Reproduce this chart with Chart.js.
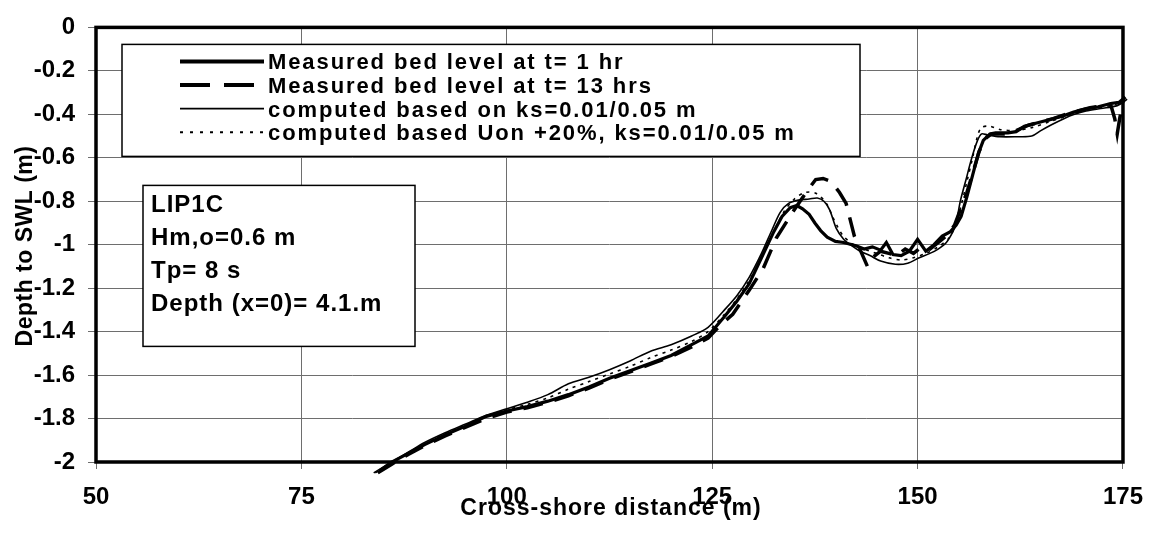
<!DOCTYPE html>
<html>
<head>
<meta charset="utf-8">
<script src="https://cdn.jsdelivr.net/npm/chart.js@4.4.1/dist/chart.umd.min.js"></script>
<style>
	html, body { margin: 0; padding: 0; background: #fff; }
	#chartdiv { width: 1157px; height: 533px; }
</style>
</head>
<body>
<div id="chartdiv"><canvas id="profilechart" width="1157" height="533"></canvas></div>
<script>
// LIP1C cross-shore profiles

var seriesNames = [
	"Measured bed level at t= 1 hr",
	"Measured bed level at t= 13 hrs",
	"computed based on ks=0.01/0.05 m",
	"computed based Uon +20%, ks=0.01/0.05 m"
];

var noteLines = ["LIP1C", "Hm,o=0.6 m", "Tp= 8 s", "Depth (x=0)= 4.1.m"];

var xTicks = [50, 75, 100, 125, 150, 175];
var yTicks = [0, -0.2, -0.4, -0.6, -0.8, -1, -1.2, -1.4, -1.6, -1.8, -2];

var xTitle = "Cross-shore distance (m)";
var yTitle = "Depth to SWL (m)";

// measured t = 1 hr
var bed1hrX = [84.5, 86, 88, 90, 92.5, 95, 97.5, 100, 102.5, 105, 107.5, 110, 112.5, 115, 117.5,
	120, 122.5, 124.5, 126.5, 128, 129.5, 131, 132.5, 133.5, 134.5, 135.3, 136, 136.8, 137.5, 138.2,
	139, 140, 141, 142.5, 143.5, 144.5, 145.5, 146.2, 147, 148, 149, 150, 151, 152, 153,
	154, 154.7, 155.3, 156, 156.7, 157.4, 158, 158.8, 159.5, 161, 162, 163, 164.5, 166, 167.5,
	169, 170.5, 172, 173.5, 174.5, 175.3, 176];
var bed1hrY = [-2.04, -2.0, -1.96, -1.92, -1.875, -1.835, -1.79, -1.765, -1.745, -1.72, -1.69, -1.655, -1.615, -1.58, -1.545,
	-1.51, -1.46, -1.42, -1.33, -1.26, -1.18, -1.06, -0.94, -0.87, -0.83, -0.82, -0.835, -0.86, -0.90, -0.935,
	-0.965, -0.985, -0.99, -1.005, -1.02, -1.01, -1.025, -0.99, -1.045, -1.05, -1.03, -0.975, -1.03, -1.0, -0.96,
	-0.94, -0.91, -0.87, -0.78, -0.68, -0.58, -0.52, -0.49, -0.485, -0.485, -0.48, -0.455, -0.44, -0.425, -0.41,
	-0.39, -0.375, -0.365, -0.35, -0.345, -0.32, -0.28];

// measured t = 13 hrs
var bed13hrX = [84.3, 86, 88, 90, 92.5, 95, 97.5, 100, 102.5, 105, 107.5, 110, 112.5, 115, 117.5,
	120, 122.5, 124.5, 126, 127.5, 129.5, 131.2, 132.8, 134.8, 136.6, 137.6, 138.5, 139.2, 139.8, 140.5,
	141.3, 141.7, 142.3, 143.2, 143.9, 144.5, 145.5, 146.5, 147.5, 148.5, 149.5, 150.5, 151.5, 152.5, 153.5,
	154.5, 155.3, 156, 156.8, 157.5, 158.3, 159, 160.5, 162, 163.5, 165, 166.5, 168, 169.5, 171,
	172.5, 173.5, 174, 174.3, 174.6, 175, 175.5, 176];
var bed13hrY = [-2.05, -2.01, -1.965, -1.925, -1.88, -1.84, -1.80, -1.77, -1.75, -1.725, -1.695, -1.66, -1.62, -1.585, -1.55,
	-1.515, -1.47, -1.43, -1.37, -1.32, -1.21, -1.11, -0.97, -0.85, -0.75, -0.70, -0.695, -0.705, -0.725, -0.76,
	-0.81, -0.87, -0.96, -1.04, -1.10, -1.06, -1.03, -1.04, -1.05, -1.02, -1.04, -1.01, -1.02, -0.99, -0.96,
	-0.91, -0.83, -0.76, -0.66, -0.57, -0.51, -0.49, -0.49, -0.475, -0.45, -0.435, -0.42, -0.40, -0.385, -0.37,
	-0.36, -0.355, -0.42, -0.49, -0.42, -0.34, -0.30, -0.26];

// computed, ks = 0.01/0.05 m
var compKsX = [83.8, 86, 88, 90, 92.5, 95, 97.5, 100, 102.5, 105, 107.5, 110, 112.5, 115, 117.5,
	120, 122.5, 124.5, 126.5, 128, 129.5, 131, 132.3, 133.3, 134.3, 135.5, 136.8, 137.8, 138.6, 139.3,
	140.1, 141, 141.8, 143, 144.2, 145.5, 147.3, 148.8, 150.2, 151.5, 152.5, 153.5, 154.3, 154.7, 155.2,
	155.9, 156.6, 157.3, 157.8, 158.5, 160, 162, 163.9, 165, 166.3, 167.8, 169.1, 170.5, 172.3, 174.3,
	175.5, 176];
var compKsY = [-2.05, -2.0, -1.955, -1.91, -1.865, -1.825, -1.785, -1.755, -1.725, -1.69, -1.64, -1.61, -1.575, -1.535, -1.49,
	-1.46, -1.42, -1.38, -1.30, -1.235, -1.15, -1.04, -0.93, -0.85, -0.81, -0.795, -0.79, -0.785, -0.80, -0.84,
	-0.925, -0.975, -1.0, -1.03, -1.05, -1.075, -1.09, -1.085, -1.06, -1.04, -1.02, -0.99, -0.94, -0.90, -0.80,
	-0.70, -0.60, -0.52, -0.49, -0.495, -0.503, -0.503, -0.50, -0.475, -0.448, -0.42, -0.40, -0.385, -0.373, -0.36,
	-0.33, -0.30];

// computed, Uon +20%
var compUonX = [84, 86, 88, 90, 92.5, 95, 97.5, 100, 102.5, 105, 107.5, 110, 112.5, 115, 117.5,
	120, 122.5, 124.5, 126.5, 128, 129.5, 131, 132.5, 133.7, 135, 136.3, 137.6, 138.9, 139.7, 140.3,
	140.9, 142, 143.5, 145, 146.5, 148, 149.5, 151, 152.5, 153.8, 154.6, 155.3, 156, 156.7, 157.3,
	157.8, 158.8, 160, 162, 164, 166, 168, 170, 172, 174, 175.3, 176];
var compUonY = [-2.05, -2.005, -1.96, -1.92, -1.87, -1.83, -1.79, -1.76, -1.735, -1.705, -1.665, -1.63, -1.595, -1.56, -1.52,
	-1.485, -1.445, -1.40, -1.32, -1.25, -1.165, -1.06, -0.94, -0.85, -0.79, -0.76, -0.763, -0.81, -0.875, -0.92,
	-0.957, -0.995, -1.02, -1.04, -1.06, -1.07, -1.06, -1.04, -1.01, -0.97, -0.91, -0.82, -0.71, -0.60, -0.50,
	-0.46, -0.455, -0.47, -0.475, -0.46, -0.435, -0.41, -0.385, -0.37, -0.355, -0.33, -0.29];

function toPoints(xs, ys) {
	return xs.map(function(x, i) { return { x: x, y: ys[i] }; });
}

var fontFamily = '"Liberation Sans", Arial, Helvetica, sans-serif';
Chart.defaults.font.family = fontFamily;
Chart.defaults.color = '#000';

// legend, note box, frame and axis titles are drawn by hand
var decorPlugin = {
	id: 'decor',
	afterDatasetsDraw: function(chart) {
		var ctx = chart.ctx, ca = chart.chartArea;
		ctx.save();
		ctx.strokeStyle = '#000';
		ctx.lineWidth = 3.5;
		ctx.setLineDash([]);
		ctx.strokeRect(ca.left, ca.top, ca.right - ca.left, ca.bottom - ca.top);
		ctx.restore();
	},
	afterDraw: function(chart) {
		var ctx = chart.ctx, ca = chart.chartArea;
		ctx.save();

		// legend box
		var lx = ca.left + 26, ly = ca.top + 17, lw = 738, lh = 112;
		ctx.fillStyle = '#fff';
		ctx.fillRect(lx, ly, lw, lh);
		ctx.strokeStyle = '#000';
		ctx.lineWidth = 1.5;
		ctx.strokeRect(lx, ly, lw, lh);

		ctx.font = 'bold 22px ' + fontFamily;
		ctx.letterSpacing = '1.9px';
		ctx.fillStyle = '#000';
		ctx.textBaseline = 'alphabetic';
		ctx.textAlign = 'left';
		chart.data.datasets.forEach(function(ds, i) {
			var ry = ly + 17 + i * 23.6;
			ctx.beginPath();
			ctx.lineWidth = ds.legendWidth;
			ctx.setLineDash(ds.legendDash);
			ctx.moveTo(lx + 58, ry);
			ctx.lineTo(lx + 142, ry);
			ctx.stroke();
			ctx.fillText(ds.label, lx + 146, ry + 8);
		});
		ctx.setLineDash([]);

		// note box
		var nx = ca.left + 47, ny = ca.top + 158, nw = 272, nh = 161;
		ctx.fillStyle = '#fff';
		ctx.fillRect(nx, ny, nw, nh);
		ctx.lineWidth = 1.5;
		ctx.strokeRect(nx, ny, nw, nh);
		ctx.fillStyle = '#000';
		ctx.font = 'bold 24px ' + fontFamily;
		ctx.letterSpacing = '1px';
		noteLines.forEach(function(t, i) {
			ctx.fillText(t, nx + 8, ny + 27 + i * 33);
		});

		// axis titles
		ctx.font = 'bold 23px ' + fontFamily;
		ctx.letterSpacing = '1px';
		ctx.textAlign = 'center';
		ctx.fillText(xTitle, 611, 515);

		ctx.translate(32, 246);
		ctx.rotate(-Math.PI / 2);
		ctx.letterSpacing = '0.5px';
		ctx.fillText(yTitle, 0, 0);
		ctx.restore();
	}
};

var profileData = {
	datasets: [{
		label: seriesNames[0],
		data: toPoints(bed1hrX, bed1hrY),
		borderColor: '#000',
		borderWidth: 3.2,
		legendWidth: 4,
		legendDash: [],
		clip: false,
		tension: 0
	}, {
		label: seriesNames[1],
		data: toPoints(bed13hrX, bed13hrY),
		borderColor: '#000',
		borderWidth: 3.5,
		borderDash: [20, 12],
		legendWidth: 4,
		legendDash: [30, 14],
		clip: false,
		tension: 0
	}, {
		label: seriesNames[2],
		data: toPoints(compKsX, compKsY),
		borderColor: '#000',
		borderWidth: 1.6,
		legendWidth: 1.6,
		legendDash: [],
		clip: false,
		tension: 0.3
	}, {
		label: seriesNames[3],
		data: toPoints(compUonX, compUonY),
		borderColor: '#000',
		borderWidth: 1.6,
		borderDash: [3, 5],
		legendWidth: 2,
		legendDash: [3, 7],
		clip: false,
		tension: 0.3
	}]
};

var chartConfig = {
	type: 'line',
	data: profileData,
	options: {
		responsive: false,
		animation: false,
		devicePixelRatio: 1,
		elements: { point: { radius: 0 } },
		layout: { padding: { top: 16, right: 31, left: 0, bottom: 0 } },
		plugins: {
			legend: { display: false },
			tooltip: { enabled: false }
		},
		scales: {
			x: {
				type: 'linear',
				min: 50,
				max: 175,
				afterBuildTicks: function(axis) {
					axis.ticks = xTicks.map(function(v) { return { value: v }; });
				},
				afterFit: function(scale) { scale.height = 71; },
				border: { display: false },
				grid: { color: '#6e6e6e', lineWidth: 1, tickLength: 7 },
				ticks: {
					font: { size: 24, weight: 'bold' },
					padding: 14,
					maxRotation: 0,
					callback: function(v) { return String(v); }
				}
			},
			y: {
				type: 'linear',
				min: -2,
				max: 0,
				afterBuildTicks: function(axis) {
					axis.ticks = yTicks.map(function(v) { return { value: v }; });
				},
				afterFit: function(scale) { scale.width = 96; },
				border: { display: false },
				grid: { color: '#6e6e6e', lineWidth: 1, tickLength: 8 },
				ticks: {
					font: { size: 24, weight: 'bold' },
					padding: 13,
					callback: function(v) { return String(v); }
				}
			}
		}
	},
	plugins: [decorPlugin]
};

var ctx = document.getElementById("profilechart").getContext("2d");
var profileChart = new Chart(ctx, chartConfig);
</script>
</body>
</html>
